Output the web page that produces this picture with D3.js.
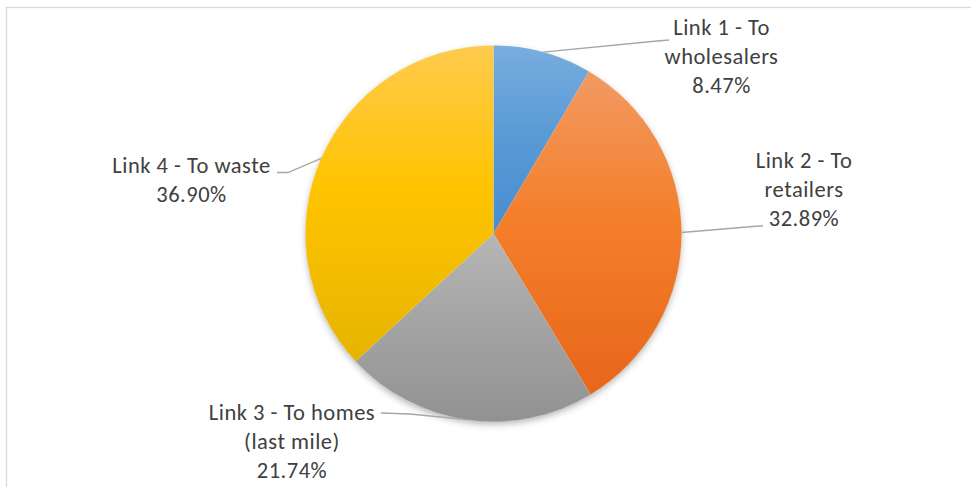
<!DOCTYPE html>
<html>
<head>
<meta charset="utf-8">
<script src="https://cdn.jsdelivr.net/npm/d3@7"></script>
<style>
  html, body { margin: 0; padding: 0; background: #fff; }
  svg { display: block; }
</style>
</head>
<body>
<svg id="chart" width="971" height="487"></svg>
<script>
// ---- data ----
const categories = ["Link 1 - To wholesalers", "Link 2 - To retailers", "Link 3 - To homes (last mile)", "Link 4 - To waste"];
const values = [8.47, 32.89, 21.74, 36.90];
const labelLines = [
  ["Link 1 - To", "wholesalers", "8.47%"],
  ["Link 2 - To", "retailers", "32.89%"],
  ["Link 3 - To homes", "(last mile)", "21.74%"],
  ["Link 4 - To waste", "36.90%"]
];

// ---- layout / style ----
const W = 971, H = 487;
const cx = 493.5, cy = 233.5, R = 188;
const colorTop = ["#78addf", "#f29a63", "#b6b6b6", "#ffca4e"];
const colorMid = ["#5b9bd5", "#f47f2b", "#a5a5a5", "#ffc400"];
const colorBot = ["#478dd3", "#e8661a", "#929292", "#e6b400"];
// label anchor (text centre x, first baseline y) and leader bends
const labelLayout = [
  { x: 721.5, y: 35, pts: [[657, 41], [669, 40]] },
  { x: 804, y: 168, pts: [[759, 226], [763, 226]] },
  { x: 292, y: 420, pts: [[410, 414], [381, 413]] },
  { x: 191.5, y: 172.5, pts: [[288, 172.5], [277, 172.5]] }
];
const lineH = 29.2;

const svg = d3.select("#chart");
const defs = svg.append("defs");

// border
svg.append("rect")
  .attr("x", 6.5).attr("y", 7.5)
  .attr("width", 1200).attr("height", 1200)
  .attr("fill", "none").attr("stroke", "#d9d9d9").attr("stroke-width", 1.3);

// shadow filter
const f = defs.append("filter").attr("id", "shadow")
  .attr("x", "-10%").attr("y", "-10%").attr("width", "120%").attr("height", "125%");
f.append("feDropShadow").attr("dx", 0).attr("dy", 3).attr("stdDeviation", 3.5)
  .attr("flood-color", "#000").attr("flood-opacity", 0.3);

values.forEach((v, i) => {
  const g = defs.append("linearGradient").attr("id", "grad" + i)
    .attr("x1", 0).attr("y1", 0).attr("x2", 0).attr("y2", 1);
  g.append("stop").attr("offset", "0%").attr("stop-color", colorTop[i]);
  g.append("stop").attr("offset", "45%").attr("stop-color", colorMid[i]);
  g.append("stop").attr("offset", "100%").attr("stop-color", colorBot[i]);
});

const pie = d3.pie().sort(null).value(d => d);
const arcs = pie(values);
const arc = d3.arc().innerRadius(0).outerRadius(R);

const pieG = svg.append("g").attr("transform", `translate(${cx},${cy})`);
const shadowG = pieG.append("g").attr("filter", "url(#shadow)");
shadowG.append("circle").attr("r", R - 0.5).attr("fill", "#fff");
pieG.selectAll("path.slice")
  .data(arcs)
  .enter().append("path")
  .attr("class", "slice")
  .attr("d", arc)
  .attr("fill", (d, i) => `url(#grad${i})`);

// leader lines
const fontFamily = "Carlito, Lato, 'Liberation Sans Narrow', sans-serif";
arcs.forEach((d, i) => {
  const a = (d.startAngle + d.endAngle) / 2;
  const start = [cx + R * Math.sin(a), cy - R * Math.cos(a)];
  const pts = [start].concat(labelLayout[i].pts);
  svg.append("path")
    .attr("d", d3.line()(pts))
    .attr("fill", "none")
    .attr("stroke", "#a6a6a6")
    .attr("stroke-width", 1.3);
});

// labels
labelLines.forEach((lines, i) => {
  const L = labelLayout[i];
  const t = svg.append("text")
    .attr("text-anchor", "middle")
    .attr("font-family", fontFamily)
    .attr("font-size", 22.5)
    .attr("letter-spacing", 0.5)
    .attr("fill", "#404040");
  lines.forEach((s, j) => {
    t.append("tspan").attr("x", L.x).attr("y", L.y + j * lineH).text(s);
  });
});
</script>
</body>
</html>
